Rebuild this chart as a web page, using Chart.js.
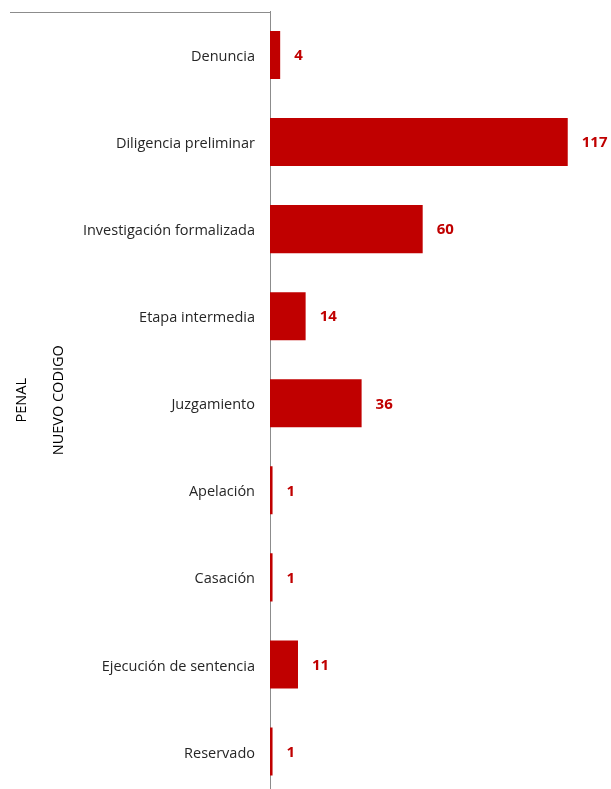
<!DOCTYPE html>
<html>
<head>
<meta charset="utf-8">
<script src="https://cdn.jsdelivr.net/npm/chart.js"></script>
<style>
  html, body { margin: 0; padding: 0; background: #fff; overflow: hidden; }
  #clip { width: 611px; height: 789px; overflow: hidden; position: relative; }
  #wrap { width: 611px; height: 795px; position: relative; }
</style>
</head>
<body>
<div id="clip"><div id="wrap"><canvas id="chart"></canvas></div></div>
<script>
// categories and values
const etapas = ['Denuncia', 'Diligencia preliminar', 'Investigación formalizada', 'Etapa intermedia',
  'Juzgamiento', 'Apelación', 'Casación', 'Ejecución de sentencia', 'Reservado'];
const casos = [4, 117, 60, 14, 36, 1, 1, 11, 1];
const grupo = ['NUEVO CODIGO', 'PENAL'];

const rojo = '#C00000';
const FONT = "'Open Sans', 'Liberation Sans', sans-serif";
const VISIBLE_H = 789;

// values printed at bar end
const valueLabels = {
  id: 'valueLabels',
  afterDatasetsDraw(chart) {
    const ctx = chart.ctx;
    const meta = chart.getDatasetMeta(0);
    ctx.save();
    ctx.fillStyle = rojo;
    ctx.font = 'bold 15px ' + FONT;
    ctx.textAlign = 'left';
    ctx.textBaseline = 'middle';
    meta.data.forEach((bar, i) => {
      ctx.fillText(String(casos[i]), bar.x + 14, bar.y + 1);
    });
    ctx.restore();
  }
};

// outer category level (rotated) and the top bracket line
const groupLabels = {
  id: 'groupLabels',
  afterDraw(chart) {
    const ctx = chart.ctx;
    const area = chart.chartArea;
    ctx.save();
    ctx.strokeStyle = '#8c8c8c';
    ctx.lineWidth = 1;
    ctx.beginPath();
    ctx.moveTo(10, Math.round(area.top) + 0.5);
    ctx.lineTo(area.left, Math.round(area.top) + 0.5);
    ctx.stroke();
    ctx.restore();

    const cy = (area.top + VISIBLE_H) / 2;
    [[59, grupo[0]], [22, grupo[1]]].forEach(([x, txt]) => {
      ctx.save();
      ctx.fillStyle = '#000';
      ctx.font = '14.5px ' + FONT;
      ctx.textAlign = 'center';
      ctx.textBaseline = 'middle';
      ctx.translate(x, cy);
      ctx.rotate(-Math.PI / 2);
      ctx.fillText(txt, 0, 0);
      ctx.restore();
    });
  }
};

new Chart(document.getElementById('chart'), {
  type: 'bar',
  data: {
    labels: etapas,
    datasets: [{
      data: casos,
      backgroundColor: rojo,
      borderWidth: 0,
      barPercentage: 0.552,
      categoryPercentage: 1
    }]
  },
  options: {
    indexAxis: 'y',
    responsive: true,
    maintainAspectRatio: false,
    animation: false,
    layout: { padding: { top: 11.5, left: 0, right: 0, bottom: 0 } },
    plugins: {
      legend: { display: false },
      tooltip: { enabled: false }
    },
    scales: {
      x: {
        display: false,
        min: 0,
        max: 134
      },
      y: {
        grid: { display: false, drawTicks: false },
        border: { display: true, color: '#8c8c8c', width: 1 },
        ticks: {
          color: '#262626',
          padding: 15,
          labelOffset: 2,
          font: { family: FONT, size: 14.5 }
        },
        afterFit(scale) {
          scale.width = 270;
          scale.paddingTop = 0;
          scale.paddingBottom = 0;
        }
      }
    }
  },
  plugins: [valueLabels, groupLabels]
});
</script>
</body>
</html>
